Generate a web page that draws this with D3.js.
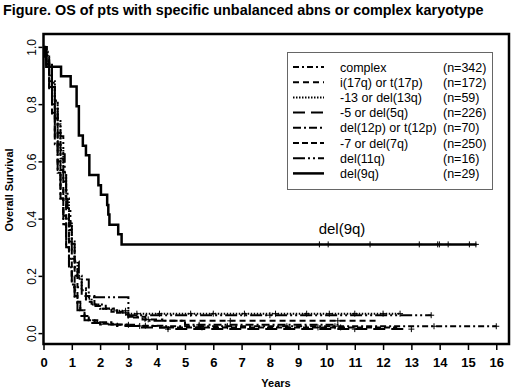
<!DOCTYPE html>
<html lang="en">
<head>
<meta charset="UTF-8">
<title>OS by karyotype</title>
<script src="https://d3js.org/d3.v7.min.js"></script>
<style>
  body { margin: 0; background: #fff; }
  svg { font-family: 'Liberation Sans', Arial, sans-serif; }
</style>
</head>
<body>
<div id="chart"></div>
<script>
// step times (years) and survival after each step
var complexT = [0, 0.1, 0.2, 0.3, 0.4, 0.5, 0.6, 0.7, 0.8, 0.9, 1.0, 1.1, 1.2, 1.3, 1.45, 1.6, 1.8, 2.1, 2.6, 3.2, 4.2, 16.0];
var complexS = [1, 0.93, 0.85, 0.76, 0.66, 0.56, 0.47, 0.38, 0.30, 0.23, 0.17, 0.13, 0.10, 0.08, 0.06, 0.045, 0.038, 0.033, 0.029, 0.026, 0.024, 0.024];
var complexC = [3.0, 3.6, 5.5, 6.5, 8.6, 10.3, 13.8, 16.0];

var i17T = [0, 0.1, 0.2, 0.3, 0.4, 0.5, 0.6, 0.7, 0.8, 0.9, 1.0, 1.1, 1.2, 1.35, 1.5, 1.7, 2.0, 2.4, 2.8, 3.0, 3.5, 4.2, 11.8];
var i17S = [1, 0.95, 0.9, 0.83, 0.75, 0.66, 0.57, 0.48, 0.40, 0.32, 0.26, 0.20, 0.16, 0.13, 0.11, 0.095, 0.085, 0.075, 0.065, 0.055, 0.048, 0.043, 0.043];
var i17C = [3.7, 6.6, 10.4];

var del13T = [0, 0.05, 0.15, 0.2, 0.3, 0.4, 0.5, 0.6, 0.7, 0.8, 0.9, 1.0, 1.1, 1.2, 1.35, 1.5, 1.7, 2.0, 2.5, 3.0, 12.6];
var del13S = [1, 0.983, 0.966, 0.93, 0.88, 0.81, 0.73, 0.64, 0.56, 0.47, 0.39, 0.32, 0.25, 0.20, 0.15, 0.12, 0.10, 0.085, 0.078, 0.068, 0.068];
var del13C = [2.9, 3.3, 4.1, 5.2, 6.0, 7.1, 8.2, 9.3, 10.1, 11.0, 12.0, 12.6];

var del5T = [0, 0.1, 0.2, 0.3, 0.4, 0.5, 0.6, 0.7, 0.8, 0.9, 1.0, 1.1, 1.2, 1.3, 1.45, 1.6, 2.0, 2.6, 3.4, 4.4, 12.9];
var del5S = [1, 0.94, 0.86, 0.77, 0.67, 0.57, 0.47, 0.38, 0.30, 0.22, 0.16, 0.11, 0.08, 0.06, 0.045, 0.035, 0.03, 0.025, 0.02, 0.014, 0.014];
var del5C = [4.4, 11.0, 13.0];

var del12T = [0, 0.1, 0.2, 0.3, 0.4, 0.5, 0.6, 0.7, 0.8, 0.9, 1.0, 1.1, 1.2, 1.35, 1.5, 1.8, 2.2, 2.6, 3.0, 3.6, 5.0, 10.5];
var del12S = [1, 0.97, 0.93, 0.86, 0.79, 0.70, 0.61, 0.53, 0.44, 0.36, 0.29, 0.23, 0.19, 0.157, 0.13, 0.10, 0.086, 0.071, 0.057, 0.043, 0.029, 0.029];
var del12C = [2.9, 5.5];

var del7T = [0, 0.1, 0.2, 0.3, 0.4, 0.5, 0.6, 0.7, 0.8, 0.9, 1.0, 1.1, 1.2, 1.3, 1.45, 1.6, 1.9, 2.4, 3.0, 4.0, 12.5];
var del7S = [1, 0.95, 0.88, 0.80, 0.70, 0.60, 0.50, 0.41, 0.33, 0.26, 0.20, 0.15, 0.11, 0.08, 0.06, 0.045, 0.038, 0.03, 0.025, 0.02, 0.02];
var del7C = [3.4, 5.6, 9.7, 10.5];

var del11T = [0, 0.1, 0.3, 0.4, 0.5, 0.6, 0.7, 0.75, 0.8, 0.85, 0.95, 1.0, 1.1, 1.25, 1.6, 3.0, 13.7];
var del11S = [1, 0.9375, 0.875, 0.8125, 0.75, 0.6875, 0.625, 0.5625, 0.5, 0.4375, 0.375, 0.3125, 0.25, 0.1875, 0.125, 0.0625, 0.0625];
var del11C = [8.0, 13.7];

var del9T = [0, 0.05, 0.1, 0.62, 0.96, 1.17, 1.25, 1.39, 1.50, 1.62, 1.94, 2.03, 2.25, 2.29, 2.33, 2.64, 2.76, 15.3];
var del9S = [1, 0.966, 0.931, 0.897, 0.862, 0.793, 0.690, 0.655, 0.621, 0.552, 0.517, 0.483, 0.448, 0.414, 0.379, 0.345, 0.310, 0.310];
var del9C = [9.75, 10.06, 11.54, 13.28, 13.93, 13.99, 14.3, 15.05, 15.28];

var seriesNames = ['complex', 'i(17q) or t(17p)', '-13 or del(13q)', '-5 or del(5q)', 'del(12p) or t(12p)', '-7 or del(7q)', 'del(11q)', 'del(9q)'];
var seriesN = ['(n=342)', '(n=172)', '(n=59)', '(n=226)', '(n=70)', '(n=250)', '(n=16)', '(n=29)'];
var xTicks = [0, 1, 2, 3, 4, 5, 6, 7, 8, 9, 10, 11, 12, 13, 14, 15, 16];
var yTicks = [0, 0.2, 0.4, 0.6, 0.8, 1.0];

var times = [complexT, i17T, del13T, del5T, del12T, del7T, del11T, del9T];
var survs = [complexS, i17S, del13S, del5S, del12S, del7S, del11S, del9S];
var cens = [complexC, i17C, del13C, del5C, del12C, del7C, del11C, del9C];
var dashes = ['6,3,2,3', '6,4', '1.5,1.5', '12,6', '8,3,2,3', '6,3', '12,3,2,3,2,3', null];
var widths = [2, 2, 2, 2, 2, 2, 2, 2.5];

var series = seriesNames.map(function (name, i) {
    return {
        name: name, n: seriesN[i],
        points: times[i].map(function (t, j) { return { t: t, s: survs[i][j] }; }),
        cens: cens[i], dash: dashes[i], width: widths[i]
    };
});

// value at time t for a step curve
function survAt(pts, t) {
    var v = pts[0].s;
    pts.forEach(function (p) { if (p.t <= t) v = p.s; });
    return v;
}

var width = 520, height = 389;
var svg = d3.select('#chart').append('svg')
    .attr('width', width)
    .attr('height', height);

var x = d3.scaleLinear().domain([0, 16.45]).range([43.5, 509]);
var y = d3.scaleLinear().domain([-0.038, 1.045]).range([344, 34]);

svg.append('text')
    .attr('x', 3)
    .attr('y', 15)
    .style('font-size', '14.4px')
    .style('font-weight', 'bold')
    .text('Figure. OS of pts with specific unbalanced abns or complex karyotype');

// curves
var line = d3.line()
    .x(function (d) { return x(d.t); })
    .y(function (d) { return y(d.s); })
    .curve(d3.curveStepAfter);

var g = svg.append('g');
series.forEach(function (d) {
    g.append('path')
        .attr('d', line(d.points))
        .attr('fill', 'none')
        .attr('stroke', '#000')
        .attr('stroke-width', d.width)
        .attr('stroke-dasharray', d.dash);

    g.selectAll(null)
        .data(d.cens)
        .enter().append('path')
        .attr('d', function (c) {
            var cx = x(c), cy = y(survAt(d.points, c));
            return 'M' + (cx - 3) + ',' + cy + 'H' + (cx + 3) + 'M' + cx + ',' + (cy - 3) + 'V' + (cy + 3);
        })
        .attr('stroke', '#000')
        .attr('stroke-width', 1);
});

// plot frame
svg.append('rect')
    .attr('x', 43.5)
    .attr('y', 34)
    .attr('width', 509 - 43.5)
    .attr('height', 344 - 34)
    .attr('fill', 'none')
    .attr('stroke', '#000')
    .attr('stroke-width', 2.5);

// axes
var xAxis = svg.append('g')
    .attr('transform', 'translate(0,345)')
    .call(d3.axisBottom(x).tickValues(xTicks).tickSize(5).tickSizeOuter(0).tickPadding(8).tickFormat(d3.format('d')));
xAxis.select('.domain').remove();
xAxis.selectAll('line').attr('stroke-width', 1.5);
xAxis.selectAll('text')
    .style('font-size', '13px')
    .style('font-weight', 'bold')
    .style('font-family', 'Liberation Sans, Arial, sans-serif')
    .attr('fill', '#000');

var yAxis = svg.append('g')
    .attr('transform', 'translate(42.5,0)')
    .call(d3.axisLeft(y).tickValues(yTicks).tickSize(4).tickSizeOuter(0).tickFormat(d3.format('.1f')));
yAxis.select('.domain').remove();
yAxis.selectAll('line').attr('stroke-width', 1.5);
yAxis.selectAll('text')
    .attr('x', null).attr('dy', null)
    .attr('text-anchor', 'middle')
    .attr('transform', 'translate(-7,0) rotate(-90)')
    .style('font-size', '12px')
    .style('font-family', 'Liberation Sans, Arial, sans-serif')
    .attr('fill', '#000');

svg.append('text')
    .attr('transform', 'translate(13,190) rotate(-90)')
    .attr('text-anchor', 'middle')
    .style('font-size', '11px')
    .style('font-weight', 'bold')
    .text('Overall Survival');

svg.append('text')
    .attr('x', 276)
    .attr('y', 387)
    .attr('text-anchor', 'middle')
    .style('font-size', '11px')
    .style('font-weight', 'bold')
    .text('Years');

svg.append('text')
    .attr('x', 342)
    .attr('y', 234)
    .attr('text-anchor', 'middle')
    .style('font-size', '15px')
    .text('del(9q)');

// legend
var legend = svg.append('g');
legend.append('rect')
    .attr('x', 287.5)
    .attr('y', 52.5)
    .attr('width', 205)
    .attr('height', 137)
    .attr('fill', '#fff')
    .attr('stroke', '#666')
    .attr('stroke-width', 1);

var rows = legend.selectAll('g.row')
    .data(series)
    .enter().append('g')
    .attr('class', 'row')
    .attr('transform', function (d, i) { return 'translate(0,' + (67 + i * 15.2) + ')'; });

rows.append('line')
    .attr('x1', 293).attr('x2', 324)
    .attr('stroke', '#000')
    .attr('stroke-width', function (d) { return d.width; })
    .attr('stroke-dasharray', function (d) { return d.dash; });
rows.append('text')
    .attr('x', 340).attr('y', 4.5)
    .style('font-size', '12.5px')
    .text(function (d) { return d.name; });
rows.append('text')
    .attr('x', 443).attr('y', 4.5)
    .style('font-size', '12.5px')
    .text(function (d) { return d.n; });
</script>
</body>
</html>
